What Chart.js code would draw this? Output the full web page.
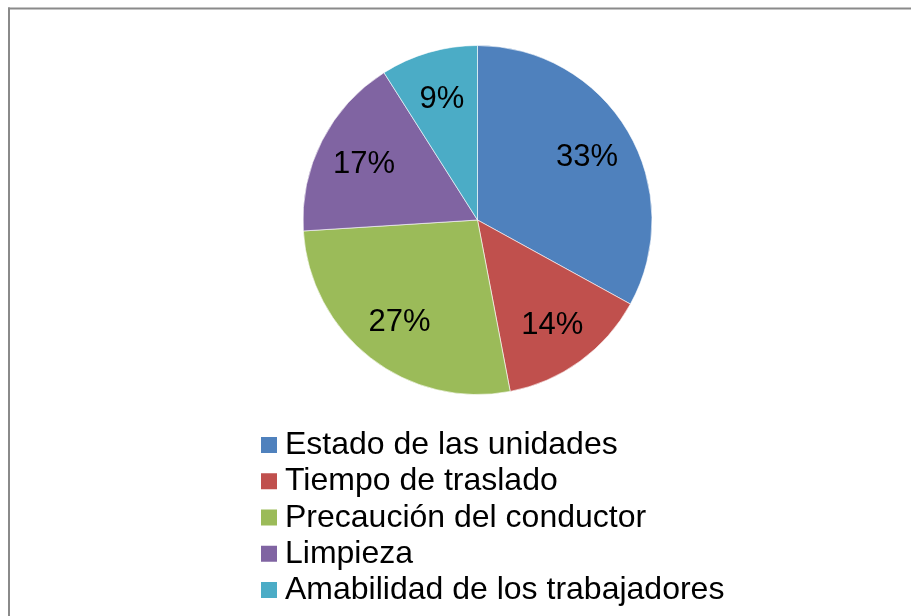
<!DOCTYPE html>
<html>
<head>
<meta charset="utf-8">
<script src="https://cdn.jsdelivr.net/npm/chart.js@4/dist/chart.umd.min.js"></script>
<style>
  html, body { margin: 0; padding: 0; background: #fff; }
  #wrap { width: 911px; height: 616px; position: relative; }
</style>
</head>
<body>
<div id="wrap"><canvas id="chart" width="911" height="616"></canvas></div>
<script>
// DATA
const categories = [
    "Estado de las unidades",
    "Tiempo de traslado",
    "Precaución del conductor",
    "Limpieza",
    "Amabilidad de los trabajadores"
];
const percentages = [33, 14, 27, 17, 9];
const sliceColors = ["#4F81BD", "#C0504D", "#9BBB59", "#8064A2", "#4BACC6"];

const FONT = "Liberation Sans, Arial, sans-serif";

// frame + slice labels + stacked legend
const excelLook = {
    id: "excelLook",
    beforeDraw(chart) {
        const ctx = chart.ctx;
        ctx.save();
        ctx.fillStyle = "#8a8a8a";
        ctx.fillRect(8, 7.5, chart.width - 8, 2);
        ctx.fillRect(8, 7.5, 2, chart.height);
        ctx.restore();
    },
    afterDraw(chart) {
        const ctx = chart.ctx;
        const meta = chart.getDatasetMeta(0);
        ctx.save();

        // percentage labels inside slices
        ctx.font = "31px " + FONT;
        ctx.fillStyle = "#000";
        ctx.textAlign = "center";
        ctx.textBaseline = "middle";
        meta.data.forEach((arc, i) => {
            const mid = (arc.startAngle + arc.endAngle) / 2;
            const r = arc.outerRadius * 0.73;
            ctx.fillText(percentages[i] + "%", arc.x + Math.cos(mid) * r, arc.y + Math.sin(mid) * r + 2);
        });

        // legend, one item per line
        ctx.font = "32px " + FONT;
        ctx.textAlign = "left";
        ctx.textBaseline = "alphabetic";
        const items = chart.legend.legendItems;
        items.forEach((item, i) => {
            const y = 454 + i * 36.25;
            ctx.fillStyle = item.fillStyle;
            ctx.fillRect(261, y - 17, 16, 16);
            ctx.fillStyle = "#000";
            ctx.fillText(item.text, 285, y);
        });
        ctx.restore();
    }
};

new Chart(document.getElementById("chart"), {
    type: "pie",
    data: {
        labels: categories,
        datasets: [{
            data: percentages,
            backgroundColor: sliceColors,
            borderColor: "rgba(255,255,255,0.6)",
            borderWidth: 1
        }]
    },
    options: {
        responsive: false,
        animation: false,
        layout: {
            padding: { top: 45, bottom: 221, left: 44, right: 0 }
        },
        plugins: {
            legend: { display: false },
            tooltip: { enabled: false }
        }
    },
    plugins: [excelLook]
});
</script>
</body>
</html>
